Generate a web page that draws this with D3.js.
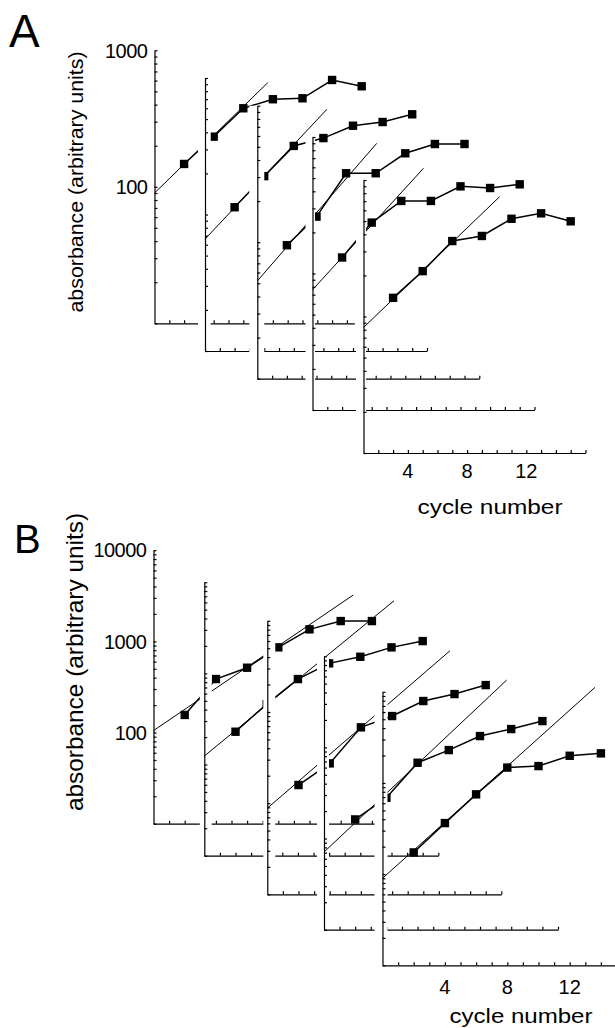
<!DOCTYPE html>
<html>
<head>
<meta charset="utf-8">
<script src="https://cdn.jsdelivr.net/npm/d3@7"></script>
<style>
body { margin: 0; background: #fff; }
svg { display: block; }
text { font-family: "Liberation Sans", Arial, sans-serif; fill: #000; }
</style>
</head>
<body>
<div></div>
<script>
// ---- panel A data ----
var cyclesA = [3, 5, 7, 9, 11, 13, 15];
var valuesA = [
    [147, 233, 376, 438, 445, 606, 545],
    [113, 191, 318, 363, 447, 476, 542],
    [95, 154, 320, 320, 448, 524, 524],
    [131, 236, 340, 340, 435, 423, 450],
    [137, 215, 357, 389, 520, 570, 498]
];
// fit lines: [start cycle, start value, end cycle, end value]
var fitA = [
    [1, 90, 8.65, 579],
    [1, 66, 9.24, 590],
    [1, 52, 9.07, 530],
    [1, 76, 8.5, 590],
    [1, 83, 10.2, 755]
];
var yTicksA = [100, 1000];
var xTicksA = [4, 8, 12];

// ---- panel B data ----
var cyclesB = [2, 4, 6, 8, 10, 12, 14];
var valuesB = [
    [156, 386, 514, 860, 1355, 1670, 1670],
    [229, 460, 866, 1288, 1521, 1928, 2260],
    [158, 273, 678, 902, 1318, 1571, 1972],
    [162, 280, 678, 934, 1330, 1588, 1942],
    [173, 363, 750, 1475, 1532, 1988, 2113]
];
var fitB = [
    [0, 105, 12.8, 3220],
    [0, 124, 12.16, 6250],
    [0, 88, 11.71, 4690],
    [0, 71, 11.71, 5470],
    [0, 90, 13.62, 11170]
];
var yTicksB = [100, 1000, 10000];
var xTicksB = [4, 8, 12];

// ---- layout ----
var width = 615;
var height = 1028;
var svg = d3.select('div')
    .append('svg').attr('width', width).attr('height', height);

var panels = [
    {
        letter: 'A', letterPos: [9, 47], letterSize: 46,
        cycles: cyclesA, values: valuesA, fits: fitA,
        yTicks: yTicksA, xTicks: xTicksA,
        c0: 1, cyclePx: 14.8, yDomain: [10, 1000], frameH: 273,
        frames: [[154.5, 323.3], [205, 351], [257.3, 378.7], [312.5, 410], [363.5, 453]],
        masks: [null, [-7, 5.7], [-8, 7], [-7, 2.5], [-7.5, 2.5]],
        axisEnd: [14.5, 16, 16, 16, 16],
        yLabel: { cx: 77, cy: 182, size: 21, len: 261 },
        xLabel: { cx: 490, cy: 514, size: 20, len: 145 },
        xTickDy: 25, tickSize: 20
    },
    {
        letter: 'B', letterPos: [14, 553], letterSize: 40,
        cycles: cyclesB, values: valuesB, fits: fitB,
        yTicks: yTicksB, xTicks: xTicksB,
        c0: 0, cyclePx: 15.6, yDomain: [10, 10000], frameH: 273.5,
        frames: [[153.5, 823.7], [204.3, 855.7], [267.3, 894.3], [324, 929.7], [382.5, 965.3]],
        masks: [null, [-4.5, 7.4], [-4, 8], [-7, 5], [-8, 5]],
        axisEnd: [14.3, 15, 15, 15, 15],
        yLabel: { cx: 76, cy: 662, size: 24, len: 298 },
        xLabel: { cx: 521, cy: 1023, size: 20, len: 143 },
        xTickDy: 29, tickSize: 20
    }
];

panels.forEach(function (p) {
    var x = d3.scaleLinear().domain([p.c0, p.c0 + 15]).range([0, 15 * p.cyclePx]);
    var y = d3.scaleLog().domain(p.yDomain).range([0, -p.frameH]);
    var g = svg.append('g');

    g.append('text')
        .attr('x', p.letterPos[0]).attr('y', p.letterPos[1])
        .style('font-size', p.letterSize + 'px')
        .text(p.letter);

    g.append('text')
        .attr('transform', 'translate(' + p.yLabel.cx + ',' + p.yLabel.cy + ') rotate(-90)')
        .attr('text-anchor', 'middle')
        .attr('dy', '0.3em')
        .attr('textLength', p.yLabel.len)
        .attr('lengthAdjust', 'spacingAndGlyphs')
        .style('font-size', p.yLabel.size + 'px')
        .text('absorbance (arbitrary units)');

    g.append('text')
        .attr('x', p.xLabel.cx).attr('y', p.xLabel.cy)
        .attr('text-anchor', 'middle')
        .attr('textLength', p.xLabel.len)
        .attr('lengthAdjust', 'spacingAndGlyphs')
        .style('font-size', p.xLabel.size + 'px')
        .text('cycle number');

    p.values.forEach(function (vals, i) {
        var o = p.frames[i];
        var f = g.append('g')
            .attr('transform', 'translate(' + o[0] + ',' + o[1] + ')');

        // later frames sit in front: a white strip hides what lies behind their axis
        var m = p.masks[i];
        if (m) {
            f.append('rect')
                .attr('x', m[0]).attr('y', -p.frameH)
                .attr('width', m[1] - m[0]).attr('height', p.frameH)
                .attr('fill', '#fff');
        }

        var xe = d3.scaleLinear()
            .domain([p.c0, p.axisEnd[i]])
            .range([0, x(p.axisEnd[i])]);
        var base = f.append('g')
            .call(d3.axisTop(xe)
                .tickValues(d3.range(p.c0 + 1, Math.floor(p.axisEnd[i]) + 1))
                .tickSize(3).tickSizeOuter(0).tickFormat(''));

        var left = f.append('g')
            .call(d3.axisRight(y).tickSize(3).tickSizeOuter(0).tickFormat(''));

        [base, left].forEach(function (a) {
            a.selectAll('path, line').attr('stroke', '#000').attr('stroke-width', 1.2);
        });

        if (i === 0) {
            f.selectAll('.ylab')
                .data(p.yTicks)
                .enter()
                .append('text')
                .attr('x', -7)
                .attr('y', function (d) { return y(d); })
                .attr('dy', '0.36em')
                .attr('text-anchor', 'end')
                .style('font-size', '20px')
                .style('letter-spacing', '-0.5px')
                .text(function (d) { return d; });
        }
        if (i === p.values.length - 1) {
            f.selectAll('.xlab')
                .data(p.xTicks)
                .enter()
                .append('text')
                .attr('x', function (d) { return x(d); })
                .attr('y', p.xTickDy)
                .attr('text-anchor', 'middle')
                .style('font-size', p.tickSize + 'px')
                .text(function (d) { return d; });
        }

        var fit = p.fits[i];
        f.append('line')
            .attr('x1', x(fit[0])).attr('y1', y(fit[1]))
            .attr('x2', x(fit[2])).attr('y2', y(fit[3]))
            .attr('stroke', '#000').attr('stroke-width', 1);

        var pts = p.cycles.map(function (c, j) { return [c, vals[j]]; });
        f.append('path')
            .datum(pts)
            .attr('fill', 'none')
            .attr('stroke', '#000')
            .attr('stroke-width', 1.5)
            .attr('d', d3.line()
                .x(function (d) { return x(d[0]); })
                .y(function (d) { return y(d[1]); }));

        f.selectAll('.pt')
            .data(pts)
            .enter()
            .append('rect')
            .attr('x', function (d) { return x(d[0]) - 4.2; })
            .attr('y', function (d) { return y(d[1]) - 4.2; })
            .attr('width', 8.4)
            .attr('height', 8.4)
            .attr('fill', '#000');
    });
});
</script>
</body>
</html>
